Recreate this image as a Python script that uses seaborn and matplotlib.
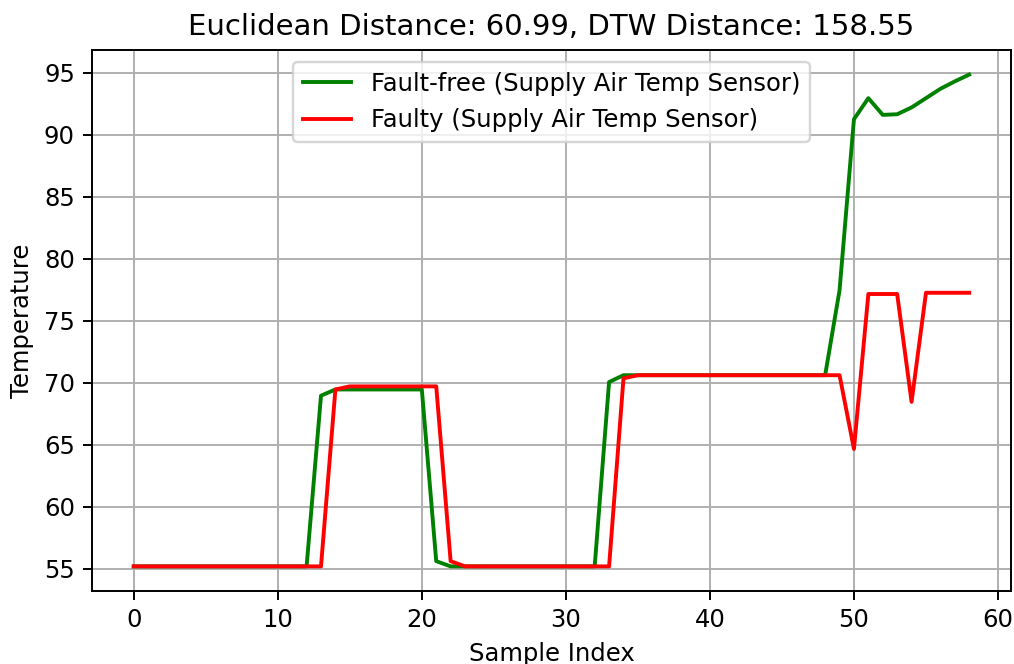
import matplotlib
matplotlib.use("Agg")
import matplotlib.pyplot as plt
import seaborn as sns

sample_index = list(range(59))

fault_free = [55.18]*13 + [68.95, 69.45, 69.45, 69.45, 69.45, 69.45, 69.45, 69.45,
              55.6, 55.18] + [55.18]*10 + [70.05, 70.6] + [70.6]*14 + [77.45, 91.25, 92.95,
              91.6, 91.65, 92.2, 92.95, 93.7, 94.3, 94.85]

faulty = [55.18]*14 + [69.45, 69.7, 69.7, 69.7, 69.7, 69.7, 69.7, 69.7,
          55.6, 55.18] + [55.18]*10 + [70.35, 70.6] + [70.6]*14 + [64.65, 77.15, 77.15,
          77.15, 68.45, 77.25, 77.25, 77.25, 77.25]

title = "Euclidean Distance: 60.99, DTW Distance: 158.55"
label_ff = "Fault-free (Supply Air Temp Sensor)"
label_f = "Faulty (Supply Air Temp Sensor)"

plt.rcParams['font.family'] = ['DejaVu Sans']

fig, ax = plt.subplots(figsize=(1014/175, 664/175), dpi=175)
fig.subplots_adjust(left=0.0907, right=0.997, top=0.9247, bottom=0.110)

sns.lineplot(x=sample_index, y=fault_free, color="green", linewidth=1.6, label=label_ff, ax=ax)
sns.lineplot(x=sample_index, y=faulty, color="red", linewidth=1.6, label=label_f, ax=ax)

ax.set_title(title, fontsize=12)
ax.set_xlabel("Sample Index", fontsize=10)
ax.set_ylabel("Temperature", fontsize=10)
ax.tick_params(labelsize=10)
ax.grid(True)
ax.set_yticks([55, 60, 65, 70, 75, 80, 85, 90, 95])
ax.set_xticks([0, 10, 20, 30, 40, 50, 60])
ax.legend(loc='upper center', fontsize=10)
fig.savefig("out.png", dpi=175)
